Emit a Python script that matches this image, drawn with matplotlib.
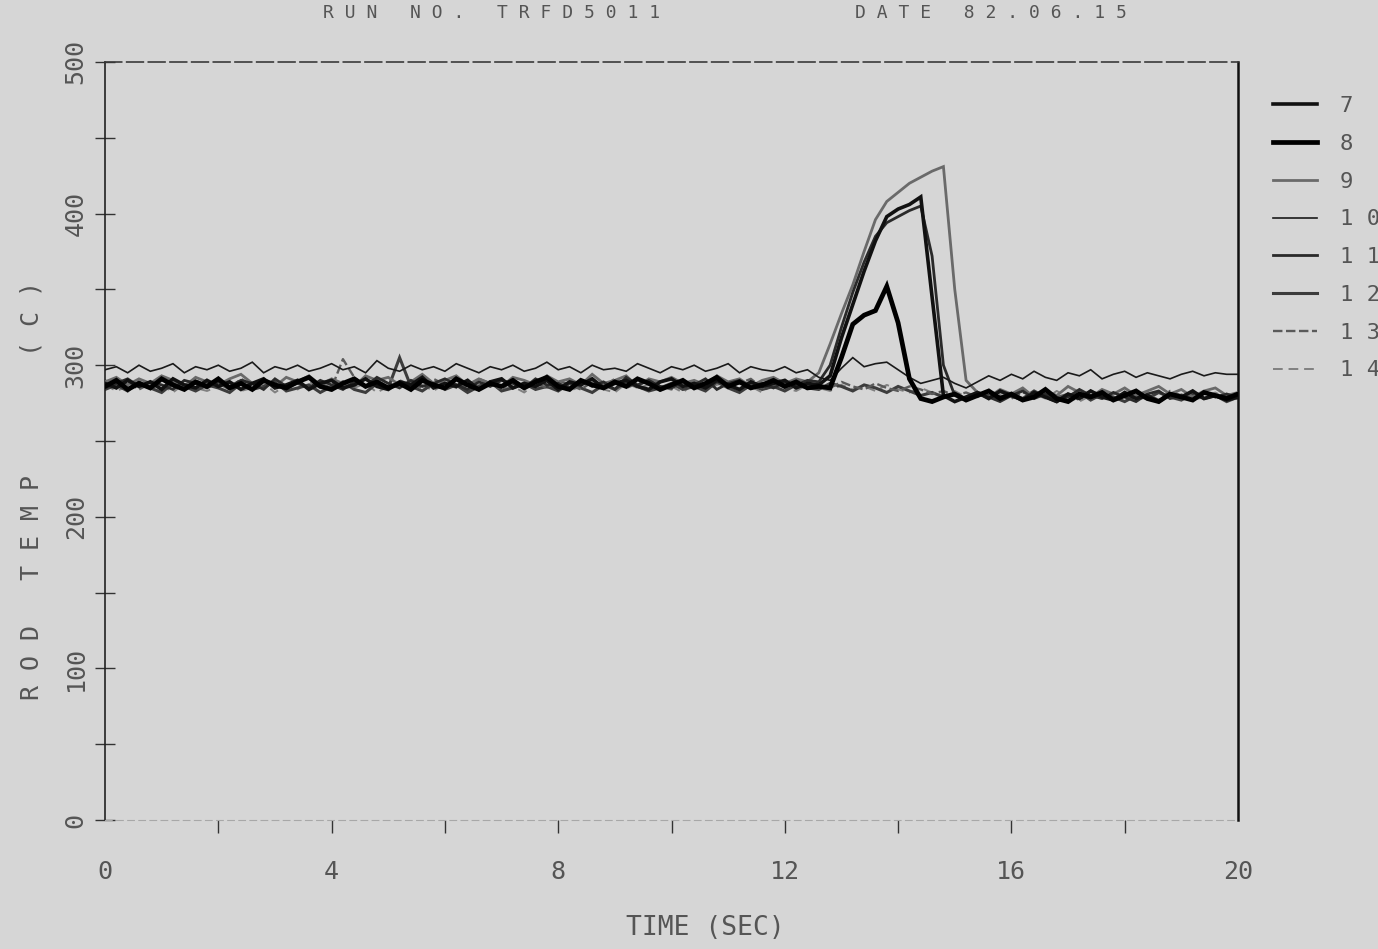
import numpy as np
import matplotlib
matplotlib.use("Agg")
import matplotlib.pyplot as plt

# sample grid of the recorder (sec)
time = np.round(np.arange(101) * 0.2, 1)

# rod temperatures (C), one list per thermocouple
temp_7 = [
    288, 285, 290, 286, 289, 284, 291, 287, 285, 290,
    286, 289, 284, 288, 291, 285, 287, 290, 284, 288,
    290, 285, 287, 291, 286, 284, 289, 287, 292, 285,
    288, 286, 290, 284, 289, 291, 285, 288, 286, 290,
    284, 289, 287, 291, 285, 288, 290, 286, 284, 289,
    291, 286, 288, 285, 290, 287, 284, 289, 286, 288,
    290, 285, 288, 287, 293, 318, 340, 362, 382, 398,
    403, 406, 411, 345, 280, 276, 279, 282, 278, 283,
    280, 277, 282, 279, 276, 281, 278, 283, 279, 277,
    282, 278, 280, 276, 281, 279, 283, 278, 280, 277,
    279]
temp_8 = [
    286, 290, 284, 288, 285, 291, 287, 284, 289, 286,
    291, 285, 288, 284, 290, 287, 285, 289, 292, 286,
    284, 288, 291, 286, 289, 285, 288, 284, 290, 287,
    285, 291, 287, 284, 288, 286, 290, 285, 289, 292,
    286, 284, 290, 287, 285, 289, 286, 291, 288, 284,
    287, 290, 285, 288, 292, 286, 289, 285, 287, 290,
    286, 289, 285, 286, 285, 305, 327, 333, 336, 352,
    328, 291, 278, 276, 279, 281, 277, 280, 283, 278,
    281, 277, 279, 284, 278, 276, 281, 279, 282, 277,
    280, 283, 278, 276, 281, 279, 277, 282, 280, 278,
    281]
temp_9 = [
    289, 292, 287, 291, 288, 293, 290, 286, 292, 289,
    287, 291, 294, 288, 290, 286, 292, 289, 293, 287,
    291, 288, 286, 293, 290, 292, 287, 289, 294, 288,
    290, 293, 287, 291, 288, 286, 292, 290, 287, 293,
    289, 291, 287, 294, 288, 290, 293, 286, 291, 289,
    292, 288, 290, 287, 293, 289, 291, 286, 290, 292,
    288, 291, 289, 295, 314, 334, 353, 375, 396, 408,
    414, 420, 424, 428, 431, 350, 290, 282, 279, 284,
    281, 285, 279, 283, 280, 286, 282, 279, 284, 281,
    285, 280, 283, 286, 281, 284, 279, 283, 285, 280,
    282]
temp_10 = [
    297, 299, 295, 300, 296, 298, 301, 295, 299, 297,
    300, 296, 298, 302, 295, 299, 297, 300, 296, 298,
    301, 297, 299, 295, 303, 298, 296, 300, 297, 299,
    296, 301, 298, 295, 299, 297, 300, 296, 298, 302,
    297, 299, 295, 300, 297, 298, 296, 301, 298, 295,
    299, 297, 300, 296, 298, 301, 295, 299, 297, 296,
    299, 295, 297, 292, 290, 298, 305, 299, 301, 302,
    297, 292, 288, 290, 292, 288, 285, 289, 293, 290,
    294, 291, 296, 292, 290, 295, 293, 297, 291, 294,
    296, 292, 295, 293, 291, 294, 296, 293, 295, 294,
    294]
temp_11 = [
    285, 288, 291, 286, 289, 287, 284, 290, 288, 285,
    289, 286, 290, 288, 284, 291, 286, 288, 285, 290,
    287, 284, 289, 286, 292, 288, 285, 290, 286, 288,
    291, 287, 284, 289, 286, 290, 288, 285, 291, 287,
    288, 285, 290, 286, 289, 284, 292, 287, 290, 286,
    285, 289, 287, 291, 284, 288, 290, 286, 288, 285,
    289, 287, 290, 289, 300, 325, 348, 368, 385, 394,
    398, 402, 405, 372, 300, 280, 277, 281, 279, 276,
    280, 283, 278, 281, 277, 279, 284, 280, 278, 282,
    279, 276, 281, 283, 278, 280, 277, 282, 279, 281,
    278]
temp_12 = [
    284, 287, 283, 289, 285, 282, 288, 286, 283, 287,
    285, 282, 288, 284, 286, 289, 283, 285, 287, 282,
    286, 289, 284, 282, 288, 285, 305, 286, 283, 288,
    284, 287, 282, 286, 289, 283, 285, 288, 284, 286,
    283, 288, 285, 282, 287, 284, 289, 286, 283, 285,
    288, 284, 286, 283, 289, 285, 282, 287, 284, 286,
    283, 287, 285, 284, 288, 286, 283, 287, 285, 282,
    286, 283, 280, 282, 279, 281, 278, 282, 280, 277,
    281, 278, 283, 279, 276, 280, 282, 277, 281, 279,
    276, 280, 278, 282, 279, 277, 281, 278, 280, 276,
    279]
temp_13 = [
    290, 286, 289, 284, 288, 291, 285, 287, 290, 286,
    288, 284, 291, 287, 285, 289, 286, 290, 284, 288,
    285, 304, 292, 286, 288, 284, 290, 287, 285, 291,
    287, 289, 285, 291, 288, 284, 290, 286, 288, 285,
    290, 287, 284, 289, 286, 291, 285, 288, 290, 286,
    284, 289, 287, 285, 290, 286, 288, 291, 285, 287,
    290, 286, 288, 287, 285, 289, 286, 284, 288, 285,
    283, 286, 284, 281, 283, 280, 282, 279, 283, 280,
    278, 282, 280, 284, 279, 281, 277, 283, 280, 278,
    282, 279, 281, 277, 283, 280, 278, 282, 279, 281,
    280]
temp_14 = [
    287, 283, 286, 289, 284, 287, 282, 288, 285, 283,
    286, 289, 283, 285, 288, 282, 287, 284, 289, 285,
    283, 287, 285, 288, 282, 286, 289, 284, 287, 283,
    288, 285, 283, 287, 290, 284, 286, 282, 288, 285,
    287, 283, 286, 289, 284, 282, 288, 285, 287, 283,
    286, 282, 288, 284, 287, 289, 283, 286, 282, 288,
    285, 283, 287, 285, 283, 287, 284, 286, 283, 287,
    284, 282, 285, 282, 280, 283, 279, 281, 278, 282,
    279, 277, 281, 278, 283, 279, 276, 280, 278, 282,
    280, 277, 279, 282, 278, 281, 277, 279, 282, 278,
    280]

channel_names = ["7", "8", "9", "10", "11", "12", "13", "14"]
channel_temps = [temp_7, temp_8, temp_9, temp_10, temp_11, temp_12, temp_13, temp_14]

x_tick_labels = ["0", "4", "8", "12", "16", "20"]
y_tick_labels = ["0", "100", "200", "300", "400", "500"]
title_run = "RUN NO. TRFD5011"
title_date = "DATE 82.06.15"

# pen styles per channel: colour, width (pt), dash, zorder
PENS = {
    "7": ("#111111", 2.6, "-", 6),
    "8": ("#000000", 3.4, "-", 7),
    "9": ("#6a6a6a", 2.0, "-", 3),
    "10": ("#1a1a1a", 1.2, "-", 5),
    "11": ("#2a2a2a", 2.0, "-", 4),
    "12": ("#3c3c3c", 2.2, "-", 2),
    "13": ("#5a5a5a", 1.7, (0, (4, 1.5)), 2),
    "14": ("#808080", 1.4, (0, (5, 3)), 1),
}

W, H = 1378, 949
BG = "#d6d6d6"
INK = "#555555"
MONO = "DejaVu Sans Mono"


def fx(px):
    return px / W


def fy(py):
    return 1 - py / H


def spaced(s):
    """Plotter-style lettering: one blank between every character."""
    return " ".join(s)


def main():
    for vals in channel_temps:
        assert len(vals) == len(time)

    fig = plt.figure(figsize=(W / 100, H / 100), dpi=100, facecolor=BG)
    ax = fig.add_axes([fx(105), fy(820), fx(1238) - fx(105), fy(62) - fy(820)])
    ax.set_facecolor(BG)

    handles = []
    for name, vals in zip(channel_names, channel_temps):
        color, lw, ls, z = PENS[name]
        line, = ax.plot(time, vals, color=color, lw=lw, ls=ls, zorder=z,
                        solid_joinstyle="miter")
        handles.append(line)

    ax.set_xlim(0, 20)
    ax.set_ylim(0, 500)

    # frame
    ax.spines["left"].set(color="#222222", lw=1.2)
    ax.spines["right"].set(color="#111111", lw=1.8)
    ax.spines["top"].set(color="#3a3a3a", lw=1.2, ls=(0, (10, 3)))
    ax.spines["bottom"].set(color="#a8a8a8", lw=0.8, ls=(0, (6, 4)))

    # x ticks: marks every 2 s below the frame, numbers every 4 s
    ax.set_xticks(range(0, 21, 4))
    ax.set_xticklabels(x_tick_labels, family=MONO, fontsize=18, color=INK)
    ax.set_xticks(range(2, 20, 4), minor=True)
    ax.tick_params(axis="x", which="both", direction="out", length=9,
                   width=1.0, color="#333333", pad=20)
    xt = ax.xaxis.get_major_ticks()
    xt[0].tick1line.set_visible(False)
    xt[-1].tick1line.set_visible(False)

    # y ticks: crossing the left frame, numbers turned on their side
    ax.set_yticks(range(0, 501, 100))
    ax.set_yticklabels(y_tick_labels, family=MONO, fontsize=18, color=INK,
                       rotation=90, va="center")
    ax.set_yticks(range(50, 500, 100), minor=True)
    ax.tick_params(axis="y", which="both", direction="inout", length=15,
                   width=1.0, color="#333333", pad=5)

    # lettering
    fig.text(fx(492), fy(13), spaced(title_run), family=MONO, fontsize=13,
             color=INK, ha="center", va="center")
    fig.text(fx(991), fy(13), spaced(title_date), family=MONO, fontsize=13,
             color=INK, ha="center", va="center")
    fig.text(fx(705), fy(928), "TIME (SEC)", family=MONO, fontsize=19,
             color=INK, ha="center", va="center")
    fig.text(fx(32), fy(588), spaced("ROD TEMP"), family=MONO, fontsize=18,
             color=INK, ha="center", va="center", rotation=90)
    fig.text(fx(32), fy(318), spaced("(C)"), family=MONO, fontsize=18,
             color=INK, ha="center", va="center", rotation=90)

    leg = fig.legend(handles, [spaced(n) for n in channel_names],
                     loc="upper left", bbox_to_anchor=(fx(1273), fy(96)),
                     frameon=False, borderpad=0, borderaxespad=0,
                     handlelength=2.0, handletextpad=1.0, labelspacing=0.8,
                     prop={"family": MONO, "size": 16})
    for txt in leg.get_texts():
        txt.set_color(INK)

    fig.savefig("out.png", dpi=100, facecolor=BG)


if __name__ == "__main__":
    main()
